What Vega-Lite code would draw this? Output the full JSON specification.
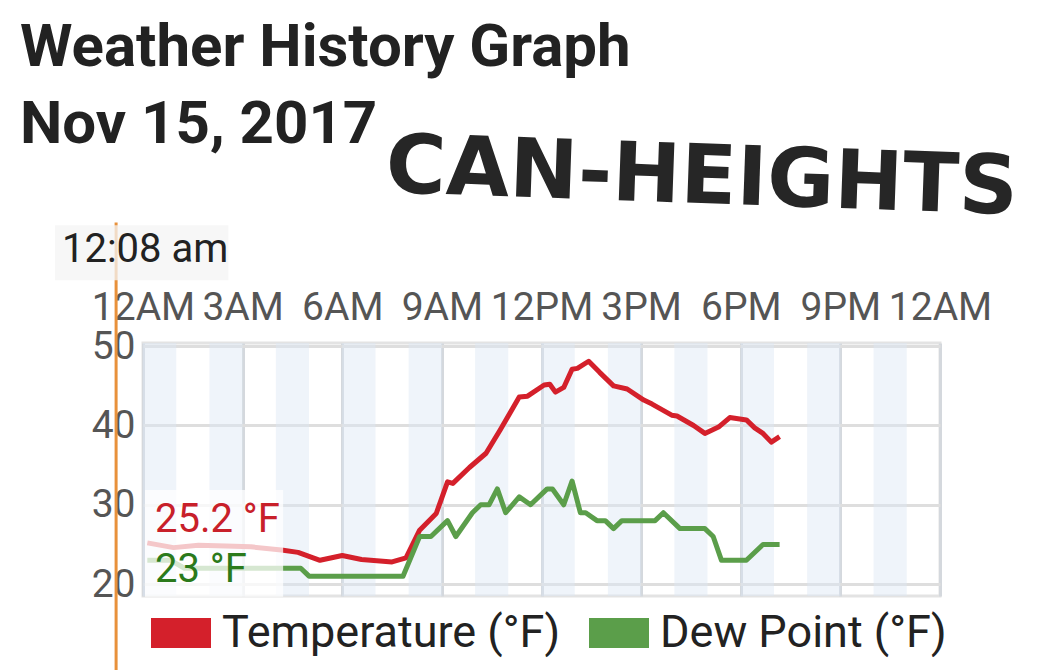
{
  "$schema": "https://vega.github.io/schema/vega-lite/v6.json",
  "width": 797,
  "height": 253,
  "autosize": {"type": "none"},
  "padding": {"left": 143, "top": 343, "right": 106, "bottom": 74},
  "background": "white",
  "title": {
    "text": ["Weather History Graph", "Nov 15, 2017"],
    "anchor": "start",
    "frame": "group",
    "font": "Roboto",
    "fontWeight": "bold",
    "fontSize": 60,
    "lineHeight": 77,
    "color": "#222222",
    "dx": -123,
    "dy": 34
  },
  "config": {
    "font": "Roboto",
    "view": {"stroke": "#e3e3e3", "strokeWidth": 3}
  },
  "datasets": {
    "weather": [
      {"hour": 0.13, "series": "Temperature (°F)", "v": 25.2},
      {"hour": 0.92, "series": "Temperature (°F)", "v": 24.6},
      {"hour": 1.67, "series": "Temperature (°F)", "v": 24.9},
      {"hour": 2.5, "series": "Temperature (°F)", "v": 24.8},
      {"hour": 3.25, "series": "Temperature (°F)", "v": 24.7},
      {"hour": 4.17, "series": "Temperature (°F)", "v": 24.3},
      {"hour": 4.67, "series": "Temperature (°F)", "v": 24.0},
      {"hour": 5.33, "series": "Temperature (°F)", "v": 23.0},
      {"hour": 6.0, "series": "Temperature (°F)", "v": 23.6},
      {"hour": 6.58, "series": "Temperature (°F)", "v": 23.1},
      {"hour": 7.5, "series": "Temperature (°F)", "v": 22.8},
      {"hour": 7.92, "series": "Temperature (°F)", "v": 23.3},
      {"hour": 8.33, "series": "Temperature (°F)", "v": 26.8},
      {"hour": 8.83, "series": "Temperature (°F)", "v": 28.9},
      {"hour": 9.17, "series": "Temperature (°F)", "v": 32.9},
      {"hour": 9.33, "series": "Temperature (°F)", "v": 32.7},
      {"hour": 9.83, "series": "Temperature (°F)", "v": 34.7},
      {"hour": 10.33, "series": "Temperature (°F)", "v": 36.5},
      {"hour": 10.75, "series": "Temperature (°F)", "v": 39.4},
      {"hour": 11.33, "series": "Temperature (°F)", "v": 43.6},
      {"hour": 11.58, "series": "Temperature (°F)", "v": 43.7},
      {"hour": 12.08, "series": "Temperature (°F)", "v": 45.1},
      {"hour": 12.25, "series": "Temperature (°F)", "v": 45.2},
      {"hour": 12.42, "series": "Temperature (°F)", "v": 44.2},
      {"hour": 12.67, "series": "Temperature (°F)", "v": 44.8},
      {"hour": 12.92, "series": "Temperature (°F)", "v": 47.1},
      {"hour": 13.08, "series": "Temperature (°F)", "v": 47.2},
      {"hour": 13.42, "series": "Temperature (°F)", "v": 48.1},
      {"hour": 13.75, "series": "Temperature (°F)", "v": 46.7},
      {"hour": 14.17, "series": "Temperature (°F)", "v": 45.0},
      {"hour": 14.58, "series": "Temperature (°F)", "v": 44.6},
      {"hour": 15.08, "series": "Temperature (°F)", "v": 43.2},
      {"hour": 15.33, "series": "Temperature (°F)", "v": 42.7},
      {"hour": 15.92, "series": "Temperature (°F)", "v": 41.3},
      {"hour": 16.08, "series": "Temperature (°F)", "v": 41.2},
      {"hour": 16.58, "series": "Temperature (°F)", "v": 40.0},
      {"hour": 16.92, "series": "Temperature (°F)", "v": 39.0},
      {"hour": 17.33, "series": "Temperature (°F)", "v": 39.8},
      {"hour": 17.67, "series": "Temperature (°F)", "v": 41.0},
      {"hour": 18.17, "series": "Temperature (°F)", "v": 40.7},
      {"hour": 18.42, "series": "Temperature (°F)", "v": 39.7},
      {"hour": 18.67, "series": "Temperature (°F)", "v": 39.0},
      {"hour": 18.92, "series": "Temperature (°F)", "v": 37.9},
      {"hour": 19.17, "series": "Temperature (°F)", "v": 38.6},
      {"hour": 0.13, "series": "Dew Point (°F)", "v": 23},
      {"hour": 0.83, "series": "Dew Point (°F)", "v": 23},
      {"hour": 1.25, "series": "Dew Point (°F)", "v": 22},
      {"hour": 4.75, "series": "Dew Point (°F)", "v": 22},
      {"hour": 5.0, "series": "Dew Point (°F)", "v": 21},
      {"hour": 7.83, "series": "Dew Point (°F)", "v": 21},
      {"hour": 8.33, "series": "Dew Point (°F)", "v": 26},
      {"hour": 8.67, "series": "Dew Point (°F)", "v": 26},
      {"hour": 9.17, "series": "Dew Point (°F)", "v": 28},
      {"hour": 9.42, "series": "Dew Point (°F)", "v": 26},
      {"hour": 9.92, "series": "Dew Point (°F)", "v": 29},
      {"hour": 10.17, "series": "Dew Point (°F)", "v": 30},
      {"hour": 10.42, "series": "Dew Point (°F)", "v": 30},
      {"hour": 10.67, "series": "Dew Point (°F)", "v": 32},
      {"hour": 10.92, "series": "Dew Point (°F)", "v": 29},
      {"hour": 11.33, "series": "Dew Point (°F)", "v": 31},
      {"hour": 11.67, "series": "Dew Point (°F)", "v": 30},
      {"hour": 12.17, "series": "Dew Point (°F)", "v": 32},
      {"hour": 12.33, "series": "Dew Point (°F)", "v": 32},
      {"hour": 12.67, "series": "Dew Point (°F)", "v": 30},
      {"hour": 12.92, "series": "Dew Point (°F)", "v": 33},
      {"hour": 13.17, "series": "Dew Point (°F)", "v": 29},
      {"hour": 13.33, "series": "Dew Point (°F)", "v": 29},
      {"hour": 13.67, "series": "Dew Point (°F)", "v": 28},
      {"hour": 13.92, "series": "Dew Point (°F)", "v": 28},
      {"hour": 14.17, "series": "Dew Point (°F)", "v": 27},
      {"hour": 14.42, "series": "Dew Point (°F)", "v": 28},
      {"hour": 15.42, "series": "Dew Point (°F)", "v": 28},
      {"hour": 15.67, "series": "Dew Point (°F)", "v": 29},
      {"hour": 16.17, "series": "Dew Point (°F)", "v": 27},
      {"hour": 16.92, "series": "Dew Point (°F)", "v": 27},
      {"hour": 17.17, "series": "Dew Point (°F)", "v": 26},
      {"hour": 17.42, "series": "Dew Point (°F)", "v": 23},
      {"hour": 18.17, "series": "Dew Point (°F)", "v": 23},
      {"hour": 18.67, "series": "Dew Point (°F)", "v": 25},
      {"hour": 19.17, "series": "Dew Point (°F)", "v": 25}
    ],
    "bands": [
      {"start": 0, "end": 1}, {"start": 2, "end": 3}, {"start": 4, "end": 5},
      {"start": 6, "end": 7}, {"start": 8, "end": 9}, {"start": 10, "end": 11},
      {"start": 12, "end": 13}, {"start": 14, "end": 15}, {"start": 16, "end": 17},
      {"start": 18, "end": 19}, {"start": 20, "end": 21}, {"start": 22, "end": 23}
    ]
  },
  "layer": [
    {
      "data": {"name": "bands"},
      "mark": {"type": "rect", "fill": "#dbe7f3", "opacity": 0.45},
      "encoding": {
        "x": {
          "field": "start", "type": "quantitative",
          "scale": {"domain": [0, 24], "nice": false, "zero": false},
          "axis": {
            "orient": "top",
            "values": [0, 3, 6, 9, 12, 15, 18, 21, 24],
            "labelExpr": "(datum.value % 12 == 0 ? 12 : datum.value % 12) + (datum.value % 24 < 12 ? 'AM' : 'PM')",
            "grid": true, "gridColor": "#d4d8dd", "gridWidth": 3,
            "domain": false, "ticks": false,
            "labelFontSize": 39, "labelColor": "#555555", "labelPadding": 16,
            "labelFlush": false, "labelOverlap": false, "labelBound": false, "title": null
          }
        },
        "x2": {"field": "end"}
      }
    },
    {
      "data": {"name": "weather"},
      "mark": {"type": "line", "strokeWidth": 5, "strokeJoin": "round"},
      "encoding": {
        "x": {"field": "hour", "type": "quantitative"},
        "y": {
          "field": "v", "type": "quantitative",
          "scale": {"domain": [18.5, 50.4], "nice": false, "zero": false},
          "axis": {
            "values": [20, 30, 40, 50],
            "grid": true, "gridColor": "#dedede", "gridWidth": 3,
            "domain": false, "ticks": false,
            "labelFontSize": 39, "labelColor": "#555555", "labelPadding": 8,
            "title": null
          }
        },
        "color": {
          "field": "series", "type": "nominal",
          "scale": {"domain": ["Temperature (°F)", "Dew Point (°F)"], "range": ["#d4202b", "#5b9e4a"]},
          "legend": {
            "orient": "none", "legendX": 8, "legendY": 260,
            "direction": "horizontal", "title": null, "padding": 0,
            "symbolType": "M-1,-0.5H1V0.5H-1Z", "symbolSize": 3600,
            "symbolStrokeWidth": 0, "symbolOpacity": 1,
            "labelFontSize": 45, "labelColor": "#222222", "labelOffset": 11,
            "columnPadding": 28, "labelLimit": 600,
            "encode": {
              "symbols": {
                "update": {
                  "fill": {"scale": "color", "field": "value"},
                  "stroke": {"value": "transparent"},
                  "strokeWidth": {"value": 0},
                  "shape": {"value": "M-1,-0.5H1V0.5H-1Z"},
                  "size": {"value": 3600},
                  "opacity": {"value": 1}
                }
              }
            }
          }
        }
      }
    },
    {
      "data": {"values": [{}]},
      "mark": {"type": "rule", "color": "#e8913b", "strokeWidth": 3},
      "encoding": {
        "x": {"datum": -0.81, "type": "quantitative"},
        "y": {"datum": 65.6, "type": "quantitative"},
        "y2": {"datum": 9.1}
      }
    },
    {
      "data": {"values": [{}]},
      "mark": {"type": "rect", "fill": "#f4f4f4", "opacity": 0.75},
      "encoding": {
        "x": {"datum": -2.65, "type": "quantitative"},
        "x2": {"datum": 2.57},
        "y": {"datum": 65.25, "type": "quantitative"},
        "y2": {"datum": 58.3}
      }
    },
    {
      "data": {"values": [{}]},
      "mark": {"type": "rect", "fill": "#ffffff", "opacity": 0.75},
      "encoding": {
        "x": {"datum": 0.06, "type": "quantitative"},
        "x2": {"datum": 4.22},
        "y": {"datum": 31.85, "type": "quantitative"},
        "y2": {"datum": 18.4}
      }
    },
    {
      "data": {"values": [{}]},
      "mark": {"type": "text", "text": "12:08 am", "align": "left", "baseline": "alphabetic", "fontSize": 40, "color": "#222222"},
      "encoding": {
        "x": {"datum": -2.44, "type": "quantitative"},
        "y": {"datum": 60.6, "type": "quantitative"}
      }
    },
    {
      "data": {"values": [{}]},
      "mark": {"type": "text", "text": "25.2 °F", "align": "left", "baseline": "alphabetic", "fontSize": 40, "color": "#c8202a"},
      "encoding": {
        "x": {"datum": 0.36, "type": "quantitative"},
        "y": {"datum": 26.55, "type": "quantitative"}
      }
    },
    {
      "data": {"values": [{}]},
      "mark": {"type": "text", "text": "23 °F", "align": "left", "baseline": "alphabetic", "fontSize": 40, "color": "#2b7a1b"},
      "encoding": {
        "x": {"datum": 0.36, "type": "quantitative"},
        "y": {"datum": 20.25, "type": "quantitative"}
      }
    },
    {
      "data": {"values": [{}]},
      "mark": {"type": "text", "text": "CAN-HEIGHTS", "align": "center", "baseline": "middle", "font": "DejaVu Sans", "fontWeight": "bold", "fontSize": 82, "color": "#262626", "angle": 2},
      "encoding": {
        "x": {"datum": 16.83, "type": "quantitative"},
        "y": {"datum": 71.2, "type": "quantitative"}
      }
    }
  ]
}
